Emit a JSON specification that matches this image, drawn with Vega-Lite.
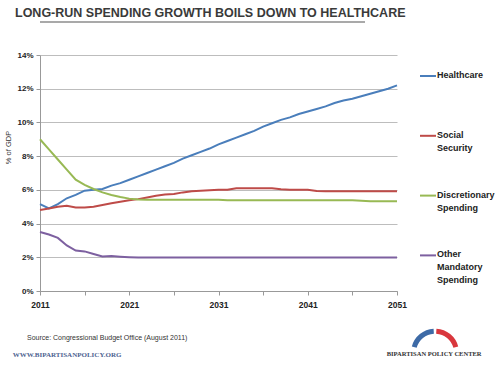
{
  "$schema": "https://vega.github.io/schema/vega-lite/v6.json",
  "width": 357,
  "height": 236,
  "autosize": {"type": "none"},
  "padding": {"left": 40, "top": 55, "right": 103, "bottom": 74},
  "background": "white",
  "title": {
    "text": "LONG-RUN SPENDING GROWTH BOILS DOWN TO HEALTHCARE",
    "anchor": "start",
    "frame": "group",
    "font": "Liberation Sans",
    "fontSize": 12.5,
    "fontWeight": "bold",
    "color": "#3a3a3a",
    "baseline": "alphabetic",
    "dx": -25,
    "offset": -8
  },
  "config": {"view": {"stroke": null}},
  "resolve": {"scale": {"x": "independent", "y": "independent"}, "axis": {"x": "independent", "y": "independent"}},
  "layer": [
    {
      "data": {"values": [
        {"year": 2011, "series": "Healthcare", "pct": 5.15},
        {"year": 2012, "series": "Healthcare", "pct": 4.9},
        {"year": 2013, "series": "Healthcare", "pct": 5.15},
        {"year": 2014, "series": "Healthcare", "pct": 5.5},
        {"year": 2015, "series": "Healthcare", "pct": 5.7},
        {"year": 2016, "series": "Healthcare", "pct": 5.95},
        {"year": 2017, "series": "Healthcare", "pct": 6.0},
        {"year": 2018, "series": "Healthcare", "pct": 6.05},
        {"year": 2019, "series": "Healthcare", "pct": 6.25},
        {"year": 2020, "series": "Healthcare", "pct": 6.4},
        {"year": 2021, "series": "Healthcare", "pct": 6.6},
        {"year": 2022, "series": "Healthcare", "pct": 6.8},
        {"year": 2023, "series": "Healthcare", "pct": 7.0},
        {"year": 2024, "series": "Healthcare", "pct": 7.2},
        {"year": 2025, "series": "Healthcare", "pct": 7.4},
        {"year": 2026, "series": "Healthcare", "pct": 7.6},
        {"year": 2027, "series": "Healthcare", "pct": 7.85},
        {"year": 2028, "series": "Healthcare", "pct": 8.05},
        {"year": 2029, "series": "Healthcare", "pct": 8.25},
        {"year": 2030, "series": "Healthcare", "pct": 8.45},
        {"year": 2031, "series": "Healthcare", "pct": 8.7},
        {"year": 2032, "series": "Healthcare", "pct": 8.9},
        {"year": 2033, "series": "Healthcare", "pct": 9.1},
        {"year": 2034, "series": "Healthcare", "pct": 9.3},
        {"year": 2035, "series": "Healthcare", "pct": 9.5},
        {"year": 2036, "series": "Healthcare", "pct": 9.75},
        {"year": 2037, "series": "Healthcare", "pct": 9.95},
        {"year": 2038, "series": "Healthcare", "pct": 10.15},
        {"year": 2039, "series": "Healthcare", "pct": 10.3},
        {"year": 2040, "series": "Healthcare", "pct": 10.5},
        {"year": 2041, "series": "Healthcare", "pct": 10.65},
        {"year": 2042, "series": "Healthcare", "pct": 10.8},
        {"year": 2043, "series": "Healthcare", "pct": 10.95},
        {"year": 2044, "series": "Healthcare", "pct": 11.15},
        {"year": 2045, "series": "Healthcare", "pct": 11.3},
        {"year": 2046, "series": "Healthcare", "pct": 11.4},
        {"year": 2047, "series": "Healthcare", "pct": 11.55},
        {"year": 2048, "series": "Healthcare", "pct": 11.7},
        {"year": 2049, "series": "Healthcare", "pct": 11.85},
        {"year": 2050, "series": "Healthcare", "pct": 12.0},
        {"year": 2051, "series": "Healthcare", "pct": 12.2},
        {"year": 2011, "series": "Social Security", "pct": 4.8},
        {"year": 2012, "series": "Social Security", "pct": 4.9},
        {"year": 2013, "series": "Social Security", "pct": 5.0},
        {"year": 2014, "series": "Social Security", "pct": 5.05},
        {"year": 2015, "series": "Social Security", "pct": 4.95},
        {"year": 2016, "series": "Social Security", "pct": 4.95},
        {"year": 2017, "series": "Social Security", "pct": 5.0},
        {"year": 2018, "series": "Social Security", "pct": 5.1},
        {"year": 2019, "series": "Social Security", "pct": 5.2},
        {"year": 2020, "series": "Social Security", "pct": 5.3},
        {"year": 2021, "series": "Social Security", "pct": 5.38},
        {"year": 2022, "series": "Social Security", "pct": 5.45},
        {"year": 2023, "series": "Social Security", "pct": 5.55},
        {"year": 2024, "series": "Social Security", "pct": 5.65},
        {"year": 2025, "series": "Social Security", "pct": 5.72},
        {"year": 2026, "series": "Social Security", "pct": 5.76},
        {"year": 2027, "series": "Social Security", "pct": 5.85},
        {"year": 2028, "series": "Social Security", "pct": 5.92},
        {"year": 2029, "series": "Social Security", "pct": 5.95},
        {"year": 2030, "series": "Social Security", "pct": 5.97},
        {"year": 2031, "series": "Social Security", "pct": 6.0},
        {"year": 2032, "series": "Social Security", "pct": 6.0},
        {"year": 2033, "series": "Social Security", "pct": 6.1},
        {"year": 2034, "series": "Social Security", "pct": 6.1},
        {"year": 2035, "series": "Social Security", "pct": 6.1},
        {"year": 2036, "series": "Social Security", "pct": 6.1},
        {"year": 2037, "series": "Social Security", "pct": 6.1},
        {"year": 2038, "series": "Social Security", "pct": 6.03},
        {"year": 2039, "series": "Social Security", "pct": 6.0},
        {"year": 2040, "series": "Social Security", "pct": 6.0},
        {"year": 2041, "series": "Social Security", "pct": 6.0},
        {"year": 2042, "series": "Social Security", "pct": 5.93},
        {"year": 2043, "series": "Social Security", "pct": 5.92},
        {"year": 2044, "series": "Social Security", "pct": 5.92},
        {"year": 2045, "series": "Social Security", "pct": 5.92},
        {"year": 2046, "series": "Social Security", "pct": 5.92},
        {"year": 2047, "series": "Social Security", "pct": 5.92},
        {"year": 2048, "series": "Social Security", "pct": 5.92},
        {"year": 2049, "series": "Social Security", "pct": 5.92},
        {"year": 2050, "series": "Social Security", "pct": 5.92},
        {"year": 2051, "series": "Social Security", "pct": 5.92},
        {"year": 2011, "series": "Discretionary Spending", "pct": 9.0},
        {"year": 2012, "series": "Discretionary Spending", "pct": 8.4},
        {"year": 2013, "series": "Discretionary Spending", "pct": 7.8},
        {"year": 2014, "series": "Discretionary Spending", "pct": 7.2},
        {"year": 2015, "series": "Discretionary Spending", "pct": 6.6},
        {"year": 2016, "series": "Discretionary Spending", "pct": 6.3},
        {"year": 2017, "series": "Discretionary Spending", "pct": 6.05},
        {"year": 2018, "series": "Discretionary Spending", "pct": 5.85},
        {"year": 2019, "series": "Discretionary Spending", "pct": 5.7},
        {"year": 2020, "series": "Discretionary Spending", "pct": 5.58},
        {"year": 2021, "series": "Discretionary Spending", "pct": 5.48},
        {"year": 2022, "series": "Discretionary Spending", "pct": 5.43},
        {"year": 2023, "series": "Discretionary Spending", "pct": 5.42},
        {"year": 2024, "series": "Discretionary Spending", "pct": 5.42},
        {"year": 2025, "series": "Discretionary Spending", "pct": 5.42},
        {"year": 2026, "series": "Discretionary Spending", "pct": 5.42},
        {"year": 2027, "series": "Discretionary Spending", "pct": 5.42},
        {"year": 2028, "series": "Discretionary Spending", "pct": 5.42},
        {"year": 2029, "series": "Discretionary Spending", "pct": 5.42},
        {"year": 2030, "series": "Discretionary Spending", "pct": 5.42},
        {"year": 2031, "series": "Discretionary Spending", "pct": 5.42},
        {"year": 2032, "series": "Discretionary Spending", "pct": 5.38},
        {"year": 2033, "series": "Discretionary Spending", "pct": 5.38},
        {"year": 2034, "series": "Discretionary Spending", "pct": 5.38},
        {"year": 2035, "series": "Discretionary Spending", "pct": 5.38},
        {"year": 2036, "series": "Discretionary Spending", "pct": 5.38},
        {"year": 2037, "series": "Discretionary Spending", "pct": 5.38},
        {"year": 2038, "series": "Discretionary Spending", "pct": 5.38},
        {"year": 2039, "series": "Discretionary Spending", "pct": 5.38},
        {"year": 2040, "series": "Discretionary Spending", "pct": 5.38},
        {"year": 2041, "series": "Discretionary Spending", "pct": 5.38},
        {"year": 2042, "series": "Discretionary Spending", "pct": 5.38},
        {"year": 2043, "series": "Discretionary Spending", "pct": 5.38},
        {"year": 2044, "series": "Discretionary Spending", "pct": 5.38},
        {"year": 2045, "series": "Discretionary Spending", "pct": 5.38},
        {"year": 2046, "series": "Discretionary Spending", "pct": 5.38},
        {"year": 2047, "series": "Discretionary Spending", "pct": 5.36},
        {"year": 2048, "series": "Discretionary Spending", "pct": 5.33},
        {"year": 2049, "series": "Discretionary Spending", "pct": 5.33},
        {"year": 2050, "series": "Discretionary Spending", "pct": 5.33},
        {"year": 2051, "series": "Discretionary Spending", "pct": 5.33},
        {"year": 2011, "series": "Other Mandatory Spending", "pct": 3.5},
        {"year": 2012, "series": "Other Mandatory Spending", "pct": 3.35},
        {"year": 2013, "series": "Other Mandatory Spending", "pct": 3.15},
        {"year": 2014, "series": "Other Mandatory Spending", "pct": 2.7},
        {"year": 2015, "series": "Other Mandatory Spending", "pct": 2.4},
        {"year": 2016, "series": "Other Mandatory Spending", "pct": 2.35},
        {"year": 2017, "series": "Other Mandatory Spending", "pct": 2.2},
        {"year": 2018, "series": "Other Mandatory Spending", "pct": 2.05},
        {"year": 2019, "series": "Other Mandatory Spending", "pct": 2.07},
        {"year": 2020, "series": "Other Mandatory Spending", "pct": 2.03},
        {"year": 2021, "series": "Other Mandatory Spending", "pct": 2.0},
        {"year": 2022, "series": "Other Mandatory Spending", "pct": 1.98},
        {"year": 2023, "series": "Other Mandatory Spending", "pct": 1.98},
        {"year": 2024, "series": "Other Mandatory Spending", "pct": 1.98},
        {"year": 2025, "series": "Other Mandatory Spending", "pct": 1.98},
        {"year": 2026, "series": "Other Mandatory Spending", "pct": 1.98},
        {"year": 2027, "series": "Other Mandatory Spending", "pct": 1.98},
        {"year": 2028, "series": "Other Mandatory Spending", "pct": 1.98},
        {"year": 2029, "series": "Other Mandatory Spending", "pct": 1.98},
        {"year": 2030, "series": "Other Mandatory Spending", "pct": 1.98},
        {"year": 2031, "series": "Other Mandatory Spending", "pct": 1.98},
        {"year": 2032, "series": "Other Mandatory Spending", "pct": 1.98},
        {"year": 2033, "series": "Other Mandatory Spending", "pct": 1.98},
        {"year": 2034, "series": "Other Mandatory Spending", "pct": 1.98},
        {"year": 2035, "series": "Other Mandatory Spending", "pct": 1.98},
        {"year": 2036, "series": "Other Mandatory Spending", "pct": 1.98},
        {"year": 2037, "series": "Other Mandatory Spending", "pct": 1.98},
        {"year": 2038, "series": "Other Mandatory Spending", "pct": 1.98},
        {"year": 2039, "series": "Other Mandatory Spending", "pct": 1.98},
        {"year": 2040, "series": "Other Mandatory Spending", "pct": 1.98},
        {"year": 2041, "series": "Other Mandatory Spending", "pct": 1.98},
        {"year": 2042, "series": "Other Mandatory Spending", "pct": 1.98},
        {"year": 2043, "series": "Other Mandatory Spending", "pct": 1.98},
        {"year": 2044, "series": "Other Mandatory Spending", "pct": 1.98},
        {"year": 2045, "series": "Other Mandatory Spending", "pct": 1.98},
        {"year": 2046, "series": "Other Mandatory Spending", "pct": 1.98},
        {"year": 2047, "series": "Other Mandatory Spending", "pct": 1.98},
        {"year": 2048, "series": "Other Mandatory Spending", "pct": 1.98},
        {"year": 2049, "series": "Other Mandatory Spending", "pct": 1.98},
        {"year": 2050, "series": "Other Mandatory Spending", "pct": 1.98},
        {"year": 2051, "series": "Other Mandatory Spending", "pct": 1.98}
      ]},
      "mark": {"type": "line", "strokeWidth": 2},
      "encoding": {
        "x": {
          "field": "year", "type": "quantitative",
          "scale": {"domain": [2011, 2051], "nice": false, "zero": false},
          "axis": {
            "values": [2011, 2016, 2021, 2026, 2031, 2036, 2041, 2046, 2051],
            "format": "d",
            "labelExpr": "(datum.value - 2011) % 10 == 0 ? datum.label : ''",
            "title": null, "grid": false,
            "tickSize": 4, "tickColor": "#999999", "domainColor": "#999999",
            "labelFont": "Liberation Sans", "labelFontWeight": "bold", "labelFontSize": 8.5,
            "labelColor": "#222222", "labelPadding": 5, "labelFlush": false, "labelOverlap": false
          }
        },
        "y": {
          "field": "pct", "type": "quantitative",
          "scale": {"domain": [0, 14], "nice": false},
          "axis": {
            "values": [0, 2, 4, 6, 8, 10, 12, 14],
            "labelExpr": "datum.value + '%'",
            "labelOverlap": false,
            "grid": true, "gridColor": "#bdbdbd", "gridWidth": 1.2,
            "tickSize": 4, "tickColor": "#999999", "domainColor": "#999999",
            "labelFont": "Liberation Sans", "labelFontWeight": "bold", "labelFontSize": 8,
            "labelColor": "#222222", "labelPadding": 3,
            "title": "% of GDP", "titleFont": "Liberation Sans", "titleFontWeight": "normal",
            "titleFontSize": 7.5, "titleColor": "#333333", "titleAngle": -90,
            "titleX": -32, "titleY": 92, "titleAlign": "center", "titleBaseline": "middle"
          }
        },
        "color": {
          "field": "series", "type": "nominal",
          "scale": {
            "domain": ["Healthcare", "Social Security", "Discretionary Spending", "Other Mandatory Spending"],
            "range": ["#4a7ebb", "#be4b48", "#98b954", "#7d60a0"]
          },
          "legend": {
            "orient": "none", "legendX": 379, "legendY": 12, "title": null, "padding": 0,
            "symbolType": "stroke", "symbolStrokeWidth": 2, "symbolSize": 256,
            "labelFont": "Liberation Sans", "labelFontWeight": "bold", "labelFontSize": 9,
            "labelColor": "#222222", "labelLimit": 200, "labelOffset": 0,
            "labelBaseline": "top", "rowPadding": 20.8,
            "labelExpr": "datum.label == 'Healthcare' ? ['Healthcare', '', ''] : datum.label == 'Social Security' ? ['Social', 'Security', ''] : datum.label == 'Discretionary Spending' ? ['Discretionary', 'Spending', ''] : ['Other', 'Mandatory', 'Spending']",
            "encode": {"labels": {"update": {"lineHeight": {"value": 13}, "dy": {"value": -5}}}}
          }
        }
      }
    },
    {
      "data": {"values": [{}]},
      "mark": {"type": "rule", "color": "#8c8c8c", "strokeWidth": 1.5, "clip": false, "xOffset": -32, "x2Offset": 91},
      "encoding": {
        "y": {"datum": 15.96, "type": "quantitative", "scale": {"domain": [0, 14], "nice": false}, "axis": null}
      }
    },
    {
      "data": {"values": [{}]},
      "mark": {"type": "text", "align": "left", "baseline": "alphabetic", "font": "Liberation Sans", "fontSize": 7, "color": "#333333"},
      "encoding": {
        "x": {"datum": 2009.54, "type": "quantitative", "scale": {"domain": [2011, 2051], "nice": false, "zero": false}, "axis": null},
        "y": {"datum": -2.91, "type": "quantitative", "scale": {"domain": [0, 14], "nice": false}, "axis": null},
        "text": {"value": "Source: Congressional Budget Office (August 2011)"}
      }
    },
    {
      "data": {"values": [{}]},
      "mark": {"type": "text", "align": "left", "baseline": "alphabetic", "font": "Liberation Serif", "fontWeight": "bold", "fontSize": 7, "color": "#4d6290"},
      "encoding": {
        "x": {"datum": 2007.94, "type": "quantitative", "scale": {"domain": [2011, 2051], "nice": false, "zero": false}, "axis": null},
        "y": {"datum": -3.94, "type": "quantitative", "scale": {"domain": [0, 14], "nice": false}, "axis": null},
        "text": {"value": "WWW.BIPARTISANPOLICY.ORG"}
      }
    },
    {
      "data": {"values": [{}]},
      "mark": {"type": "text", "align": "left", "baseline": "alphabetic", "font": "Liberation Serif", "fontWeight": "bold", "fontSize": 6.5, "color": "#333333"},
      "encoding": {
        "x": {"datum": 2049.85, "type": "quantitative", "scale": {"domain": [2011, 2051], "nice": false, "zero": false}, "axis": null},
        "y": {"datum": -3.86, "type": "quantitative", "scale": {"domain": [0, 14], "nice": false}, "axis": null},
        "text": {"value": "BIPARTISAN POLICY CENTER"}
      }
    },
    {
      "data": {"values": [{}]},
      "mark": {"type": "arc", "theta": -1.31, "theta2": -0.06, "radius": 24, "radius2": 19, "color": "#3d6aa6"},
      "encoding": {
        "x": {"datum": 2055.26, "type": "quantitative", "scale": {"domain": [2011, 2051], "nice": false, "zero": false}, "axis": null},
        "y": {"datum": -3.66, "type": "quantitative", "scale": {"domain": [0, 14], "nice": false}, "axis": null}
      }
    },
    {
      "data": {"values": [{}]},
      "mark": {"type": "arc", "theta": 0.06, "theta2": 1.31, "radius": 24, "radius2": 19, "color": "#d9373d"},
      "encoding": {
        "x": {"datum": 2055.26, "type": "quantitative", "scale": {"domain": [2011, 2051], "nice": false, "zero": false}, "axis": null},
        "y": {"datum": -3.66, "type": "quantitative", "scale": {"domain": [0, 14], "nice": false}, "axis": null}
      }
    }
  ]
}
